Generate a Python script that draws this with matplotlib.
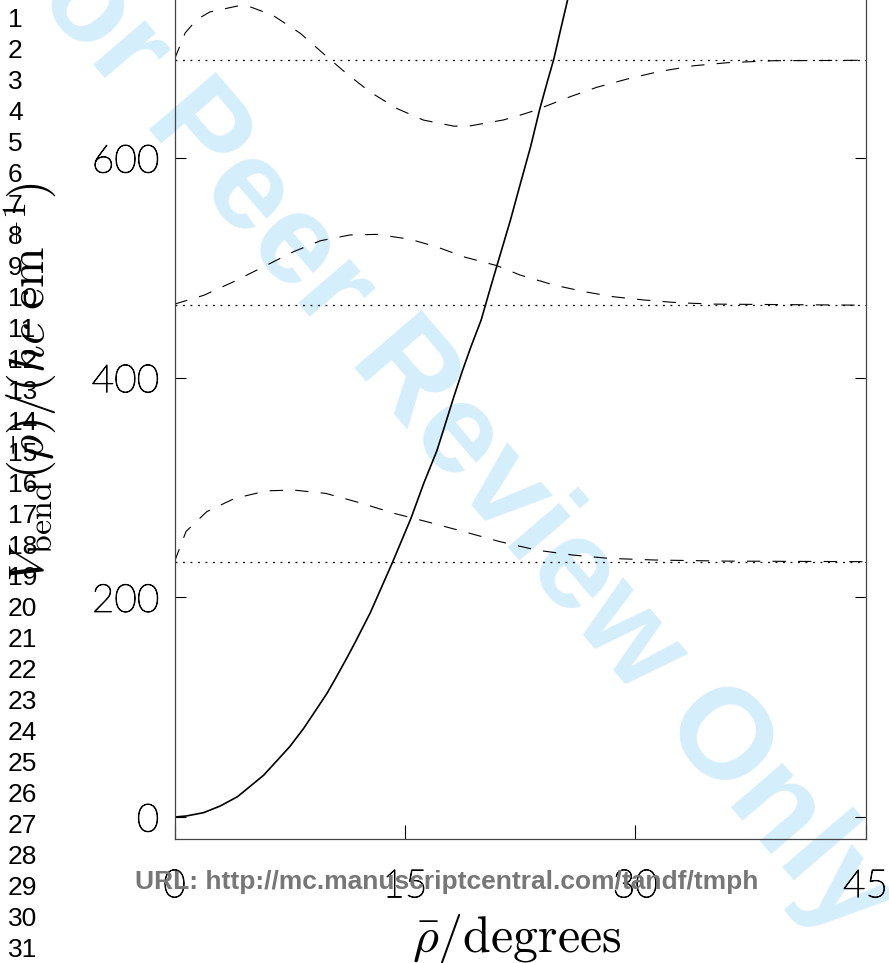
import matplotlib
matplotlib.use('Agg')
import matplotlib.pyplot as plt
import matplotlib.patheffects as pe

# bending potential (solid)
rho_pot = [0, 0.79, 1.9, 2.97, 4.1, 5.8, 7.5, 8.4, 9.0, 9.93, 10.5, 11.23,
           11.8, 12.75, 14.2, 15.4, 16.23, 17.1, 17.64, 18.2, 18.73, 19.3,
           19.97, 20.47, 21.01, 21.88, 22.53, 23.19, 23.77, 24.31, 24.7,
           25.14, 25.6]
v_pot = [0, 1.0, 4, 10, 18.5, 38, 64, 80.5, 93, 112.6, 126.5, 145,
         160, 186, 232, 272, 303.8, 334, 358, 383, 405.5, 428,
         452.5, 476.8, 502.6, 543.6, 577, 610.3, 643.7, 671, 690,
         716.6, 744]

# vibrational levels (dotted)
levels = [232.5, 466.0, 689.0]

# probability densities drawn on top of each level (dashed)
rho_w0 = [0, 0.75, 2.1, 3.9, 6.0, 7.75, 9.85, 12.2, 14.3, 16.4, 18.8, 21.2,
          23.6, 25.95, 28.3, 31.3, 36.0, 45.0]
v_w0 = [232.5, 260, 278, 290, 297, 297.7, 294.7, 285.6, 276.5, 269, 260, 250.7,
        243, 238.5, 235.5, 234, 233, 232.5]

rho_w1 = [0, 1.9, 3.85, 5.8, 7.75, 9.5, 11.45, 13.2, 15.35, 17.1, 18.85, 21.0,
          22.5, 24.7, 26.7, 28.6, 30.6, 32.75, 35.1, 45.0]
v_w1 = [467, 475, 487.4, 501, 514.7, 524.7, 530, 530.5, 526, 519, 510, 502,
        493.5, 484.4, 478.3, 473.7, 470.7, 468.3, 467, 466]

rho_w2 = [0, 0.7, 1.45, 2.3, 4.1, 4.9, 6.4, 8.2, 9.7, 11.2, 12.75, 14.5, 16.2,
          18.2, 19.3, 21.4, 22.5, 23.4, 25.8, 27.5, 29.5, 31.5, 33.8, 36.0,
          39.0, 45.0]
v_w2 = [690, 714, 726, 733, 738.4, 737.8, 730, 713.5, 695, 677, 660, 645, 634.6,
        629, 629.4, 634.6, 639, 643, 656, 664.4, 672, 678.6, 684, 686.8,
        688.6, 689]

xticks = [0, 15, 30, 45]
yticks = [0, 200, 400, 600]

plt.rcParams['mathtext.fontset'] = 'cm'

W, H = 889, 963
fig = plt.figure(figsize=(W / 100, H / 100), dpi=100)

# watermark behind everything
fig.text(440 / W, 1 - 418 / H, 'For Peer Review Only', rotation=-49.35,
         color='#d4eefb', fontsize=92.5, fontweight='bold',
         family=['Liberation Sans', 'DejaVu Sans'],
         ha='center', va='center', rotation_mode='anchor', zorder=-1)

ax = fig.add_axes([174.5 / W, 124 / H, 691 / W, 856.7 / H])
ax.patch.set_alpha(0)

ax.plot(rho_pot, v_pot, color='black', lw=1.2)
for lvl in levels:
    ax.axhline(lvl, color='black', lw=0.9, linestyle=(0, (1.5, 4.5)))
for r, v in [(rho_w0, v_w0), (rho_w1, v_w1), (rho_w2, v_w2)]:
    ax.plot(r, v, color='black', lw=0.8, linestyle=(0, (12, 11)))

ax.set_xlim(0, 45)
ax.set_ylim(-20, 760)
ax.set_xticks(xticks)
ax.set_yticks(yticks)
for s in ['left', 'right', 'bottom']:
    ax.spines[s].set_color('#444444')
    ax.spines[s].set_linewidth(0.9)
ax.spines['top'].set_visible(False)

ax.tick_params(axis='x', direction='in', length=10, width=0.8, pad=21,
               labelsize=28, colors='black')
ax.tick_params(axis='y', direction='in', length=7.7, width=0.8, pad=11,
               labelsize=28, right=True, colors='black')
for lab in ax.get_xticklabels() + ax.get_yticklabels():
    lab.set_family(['Lato', 'DejaVu Sans'])
    lab.set_fontweight('light')
    lab.set_path_effects([pe.withStroke(linewidth=0.7, foreground='black')])

fig.text(517 / W, 1 - 952 / H, r'$\bar{\rho}/\mathrm{degrees}$', fontsize=36,
         ha='center', va='baseline')
fig.text(30 / W, 1 - 382 / H,
         r'$V_{\mathrm{bend}}(\bar{\rho})/(hc\ \mathrm{cm}^{-1})$',
         fontsize=35, rotation=90, ha='center', va='center')

# page furniture: line numbers and footer
for i in range(1, 32):
    fig.text(8 / W, 1 - (27 + 31 * (i - 1)) / H, str(i), fontsize=19,
             family=['Liberation Sans', 'DejaVu Sans'], ha='left', va='baseline')

fig.text(447 / W, 1 - 882 / H, 'URL: http://mc.manuscriptcentral.com/tandf/tmph',
         fontsize=19, fontweight='bold', color='#777777',
         family=['Liberation Sans', 'DejaVu Sans'], ha='center', va='center')

plt.savefig('out.png', dpi=100)
plt.close(fig)
